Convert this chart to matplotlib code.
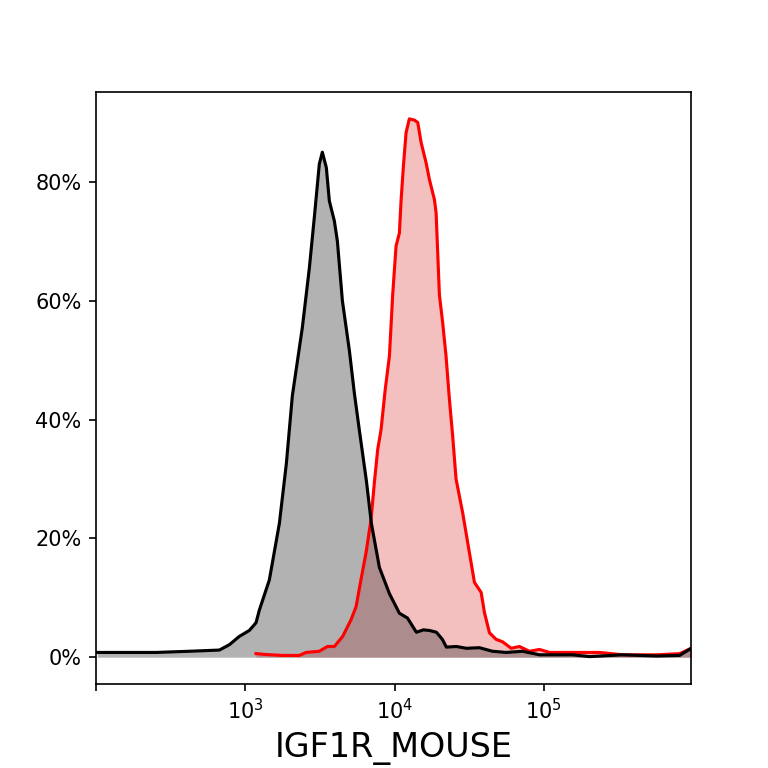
import matplotlib
matplotlib.use("Agg")
import matplotlib.pyplot as plt
from matplotlib.ticker import FuncFormatter, NullLocator

# control sample (black), percent of max
ctrl_x = [102, 167, 252, 422, 670, 782, 912, 1064, 1180, 1241, 1449, 1691, 1884,
          2066, 2411, 2686, 2899, 3132, 3282, 3490, 3656, 3951, 4139, 4470, 4980,
          5379, 5808, 6472, 6993, 7913, 9234, 10770, 12190, 14000, 15600, 17110,
          19060, 20900, 22230, 25940, 30270, 36990, 45200, 56100, 71900, 93500,
          155600, 202300, 336400, 568800, 811700, 970000]
ctrl_y = [0.8, 0.8, 0.8, 1.0, 1.2, 2.1, 3.5, 4.5, 5.8, 7.9, 13.0, 22.5, 32.6,
          44.0, 55.5, 65.5, 74.0, 83.0, 85.0, 82.4, 76.8, 73.4, 70.0, 60.0, 51.6,
          44.4, 38.2, 29.7, 22.5, 15.1, 10.7, 7.4, 6.6, 4.2, 4.6, 4.5,
          4.2, 3.0, 1.7, 1.8, 1.5, 1.6, 1.0, 0.8, 1.0, 0.4,
          0.4, 0.1, 0.4, 0.2, 0.3, 1.5]

# stained sample (red)
igf_x = [1180, 1377, 1770, 2301, 2552, 3132, 3548, 3951, 4490, 5108, 5520, 5960,
         6440, 6955, 7322, 7710, 8117, 8650, 9234, 9710, 10230, 10770, 11060,
         11460, 11940, 12560, 13570, 14290, 15060, 16260, 17110, 18490, 18970,
         19960, 20990, 22110, 23290, 24500, 25800, 28580, 31700, 34260, 38000,
         40000, 43200, 47900, 52800, 60400, 68600, 80000, 93500, 109000, 155600,
         236000, 336400, 568800, 811700, 970000]
igf_y = [0.6, 0.45, 0.3, 0.3, 0.8, 1.0, 1.8, 1.8, 3.5, 6.3, 8.5, 13.1,
         17.6, 23.2, 29.4, 35.0, 38.3, 45.0, 50.7, 61.0, 69.2, 71.4, 77.0,
         82.7, 88.3, 90.6, 90.4, 90.0, 86.6, 83.2, 80.4, 77.0, 74.8,
         61.0, 56.3, 50.7, 43.4, 37.2, 30.0, 24.3, 17.6, 12.6, 10.9,
         7.5, 4.1, 3.0, 2.6, 1.5, 1.8, 1.0, 1.3, 0.8, 0.8,
         0.8, 0.4, 0.4, 0.6, 1.5]

xtick_vals = [1e2, 1e3, 1e4, 1e5]
xtick_labels = ["", "$10^{3}$", "$10^{4}$", "$10^{5}$"]
ytick_vals = [0, 20, 40, 60, 80]

fig, ax = plt.subplots(figsize=(5.12, 5.12), dpi=150)

ax.fill_between(igf_x, igf_y, 0, color="#d70000", alpha=0.25, linewidth=0)
ax.fill_between(ctrl_x, ctrl_y, 0, color="#404040", alpha=0.4, linewidth=0)
ax.plot(igf_x, igf_y, color="red", linewidth=1.5)
ax.plot(ctrl_x, ctrl_y, color="black", linewidth=1.5)

ax.set_xscale("log")
ax.set_xlim(100, 970000)
ax.set_ylim(-4.43, 95.1)
ax.set_xticks(xtick_vals)
ax.set_xticklabels(xtick_labels)
ax.xaxis.set_minor_locator(NullLocator())
ax.set_yticks(ytick_vals)
ax.yaxis.set_major_formatter(FuncFormatter(lambda v, p: f"{v:.0f}%"))
ax.set_xlabel("IGF1R_MOUSE", fontsize=16)

fig.savefig("out.png", dpi=150)
